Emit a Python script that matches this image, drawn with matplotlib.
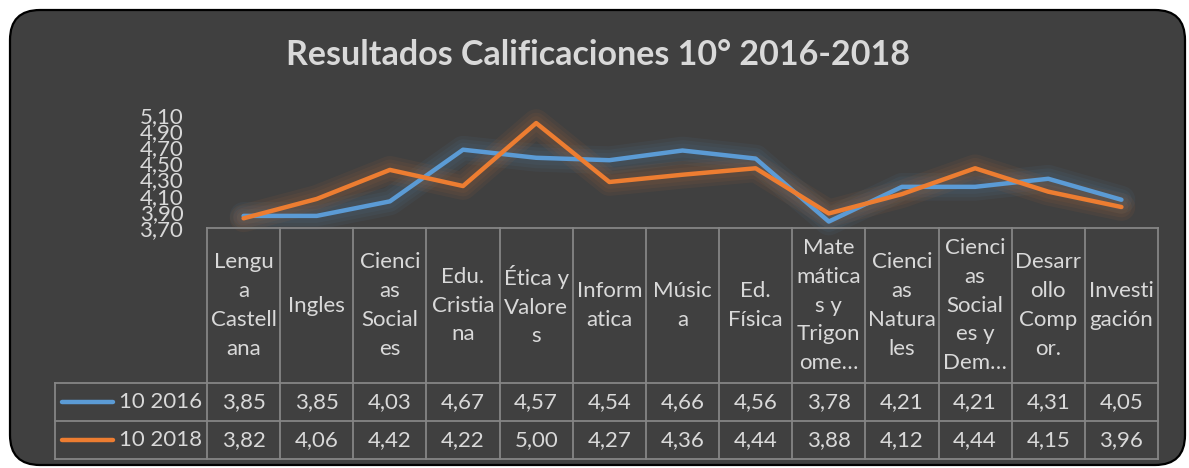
import numpy as np
import matplotlib.pyplot as plt
from matplotlib.patches import FancyBboxPatch

plt.rcParams['font.family'] = ['Lato', 'DejaVu Sans']

materias = ["Lengu\na\nCastell\nana", "Ingles", "Cienci\nas\nSocial\nes",
            "Edu.\nCristia\nna", "Ética y\nValore\ns", "Inform\natica",
            "Músic\na", "Ed.\nFísica", "Mate\nmática\ns y\nTrigon\nome…",
            "Cienci\nas\nNatura\nles", "Cienci\nas\nSocial\nes y\nDem…",
            "Desarr\nollo\nComp\nor.", "Investi\ngación"]
notas_2016 = [3.85, 3.85, 4.03, 4.67, 4.57, 4.54, 4.66, 4.56, 3.78, 4.21, 4.21, 4.31, 4.05]
notas_2018 = [3.82, 4.06, 4.42, 4.22, 5.00, 4.27, 4.36, 4.44, 3.88, 4.12, 4.44, 4.15, 3.96]
series = ["10 2016", "10 2018"]
colores = ["#5b9bd5", "#ed7d31"]
y_ticks = [3.70, 3.90, 4.10, 4.30, 4.50, 4.70, 4.90, 5.10]
titulo = "Resultados Calificaciones 10° 2016-2018"

W, H = 1189, 468
txt = "#d9d9d9"
grid = "#858585"
fs = 16
fig = plt.figure(figsize=(W / 100, H / 100), dpi=100)
fig.patch.set_facecolor("white")

# background panel in pixel units
bg = fig.add_axes([0, 0, 1, 1])
bg.set_xlim(0, W)
bg.set_ylim(H, 0)
bg.axis("off")
bg.add_patch(FancyBboxPatch((10, 10), 1175, 455,
                            boxstyle="round,pad=0,rounding_size=30",
                            fc="#404040", ec="black", lw=1.6))
bg.text(598, 55, titulo, color=txt, fontsize=24.5, fontweight="bold",
        ha="center", va="center")

ax = fig.add_axes([207 / W, 1 - 228 / H, (1158 - 207) / W, (228 - 115) / H])
ax.patch.set_alpha(0)
for s in ax.spines.values():
    s.set_visible(False)
n = len(materias)
x = np.arange(n)
ax.set_xlim(-0.5, n - 0.5)
ax.set_ylim(y_ticks[0], y_ticks[-1])
ax.set_xticks([])
ax.set_yticks(y_ticks)
ax.set_yticklabels([f"{v:.2f}".replace(".", ",") for v in y_ticks])
ax.tick_params(axis="y", length=0, pad=17, labelsize=fs, labelcolor=txt)

datos = [notas_2016, notas_2018]
for vals, c in zip(datos, colores):
    for w in [20, 15, 10]:
        ax.plot(x, vals, color=c, lw=w, alpha=0.06, solid_capstyle="round",
                solid_joinstyle="round", clip_on=False)
for vals, c in zip(datos, colores):
    ax.plot(x, vals, color=c, lw=3.2, solid_capstyle="round",
            solid_joinstyle="round", clip_on=False)

# data table below the plot (x in data units, y in axes fraction)
tr = ax.get_xaxis_transform()
px = 1 / (228 - 115)
y_head = -(383 - 228) * px
y_r1 = -(421 - 228) * px
y_r2 = -(459 - 228) * px
x_leg = -0.5 - (207 - 55) / ((1158 - 207) / n)
lk = dict(color=grid, lw=1.3, transform=tr, clip_on=False)
ax.plot([-0.5, n - 0.5], [0, 0], **lk)
for yy in [y_head, y_r1, y_r2]:
    ax.plot([x_leg, n - 0.5], [yy, yy], **lk)
for i in range(n + 1):
    ax.plot([i - 0.5, i - 0.5], [0, y_r2], **lk)
ax.plot([x_leg, x_leg], [y_head, y_r2], **lk)

for i, m in enumerate(materias):
    ax.text(i, y_head / 2, m, transform=tr, ha="center", va="center",
            color=txt, fontsize=fs, linespacing=1.55)

filas = [(y_head + y_r1) / 2, (y_r1 + y_r2) / 2]
ancho = (1158 - 207) / n
for vals, c, nombre, yc in zip(datos, colores, series, filas):
    for i, v in enumerate(vals):
        ax.text(i, yc, f"{v:.2f}".replace(".", ","), transform=tr,
                ha="center", va="center", color=txt, fontsize=fs)
    ax.plot([x_leg + 7 / ancho, x_leg + 58 / ancho], [yc, yc], color=c,
            lw=3.2, transform=tr, clip_on=False, solid_capstyle="round")
    ax.text(-0.5 - 5 / ancho, yc, nombre, transform=tr, ha="right",
            va="center", color=txt, fontsize=fs)

fig.savefig("out.png", dpi=100)
